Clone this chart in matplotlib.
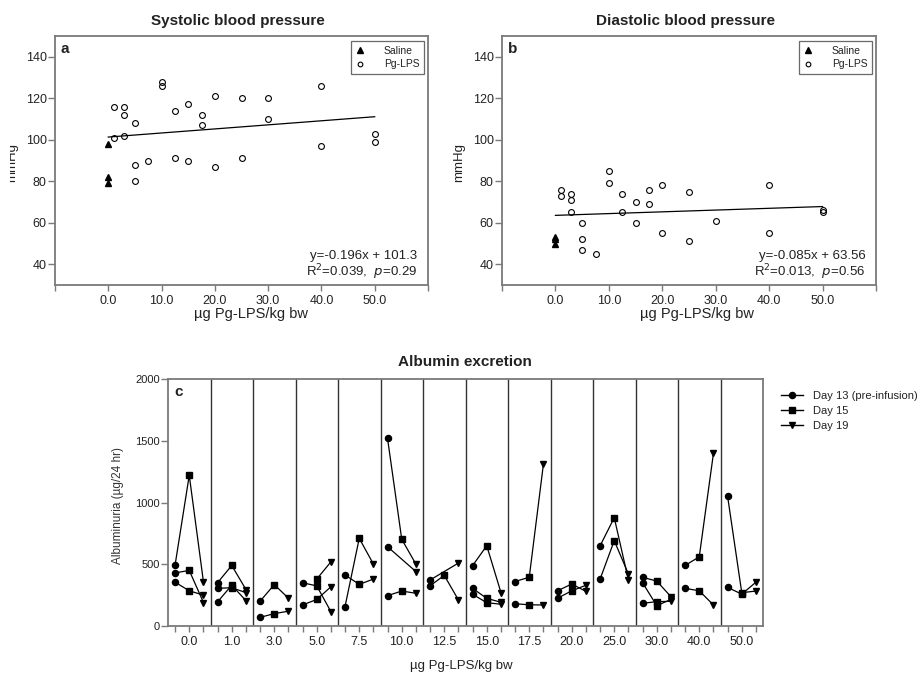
#!/usr/bin/env python3

import numpy as np
import matplotlib
matplotlib.use("Agg")
import matplotlib.pyplot as plt
from matplotlib.lines import Line2D
from matplotlib.transforms import Bbox, TransformedBbox

plt.rcParams['font.family'] = ['Liberation Sans', 'DejaVu Sans']

# blood pressure, panels a and b
saline_dose = [0.0, 0.0, 0.0]
sys_saline = [98, 82, 79]
sys_lps_dose = [1, 1, 3, 3, 3, 5, 5, 5, 7.5, 10, 10, 12.5, 12.5, 15, 15,
                17.5, 17.5, 20, 20, 25, 25, 30, 30, 40, 40, 50, 50]
sys_lps = [116, 101, 116, 112, 102, 108, 88, 80, 90, 128, 126, 114, 91, 117, 90,
           112, 107, 121, 87, 120, 91, 120, 110, 126, 97, 103, 99]
dia_saline = [53, 52, 50]
dia_lps_dose = [1, 1, 3, 3, 3, 5, 5, 5, 7.5, 10, 10, 12.5, 12.5, 15, 15,
                17.5, 17.5, 20, 20, 25, 25, 30, 40, 40, 50, 50]
dia_lps = [76, 73, 74, 71, 65, 60, 52, 47, 45, 85, 79, 74, 65, 70, 60,
           76, 69, 78, 55, 75, 51, 61, 78, 55, 66, 65]
sys_fit = (0.196, 101.3)   # slope, intercept of drawn line
dia_fit = (0.085, 63.56)
bp_ticks = [-10, 0, 10, 20, 30, 40, 50, 60]
bp_ticklabels = ['', '0.0', '10.0', '20.0', '30.0', '40.0', '50.0', '']

# albumin excretion, panel c (one entry per rat)
dose_labels = ['0.0', '1.0', '3.0', '5.0', '7.5', '10.0', '12.5', '15.0',
               '17.5', '20.0', '25.0', '30.0', '40.0', '50.0']
rat_group = [0, 0, 0, 1, 1, 1, 2, 2, 3, 3, 3, 4, 4, 5, 5, 5, 6, 6,
             7, 7, 7, 8, 8, 9, 9, 10, 10, 11, 11, 11, 12, 12, 13, 13]
nan = float('nan')
day13 = [490, 430, 355, 350, 305, 195, 200, 70, 350, 170, nan, 157, 413,
         1520, 642, 246, 372, 325, 488, 305, 257, 360, 180, 285, 225,
         648, 378, 394, 351, 184, 490, 305, 1055, 313]
day15 = [1220, 450, 285, 490, 310, 330, 335, 100, 325, 215, 380, 710, 337,
         702, nan, 283, nan, 410, 650, 224, 189, 395, 172, 340, 285,
         877, 691, 364, 165, 197, 560, 285, 270, 258]
day19 = [355, 190, 250, 295, 270, 205, 225, 120, 115, 318, 520, 500, 380,
         500, 440, 265, 510, 210, 270, 192, 176, 1315, 170, 280, 330,
         370, 420, 237, 215, 200, 1400, 170, 283, 355]
day_offset = [0.165, 0.5, 0.835]

W, H = 918, 675
fig = plt.figure(figsize=(W / 100, H / 100), dpi=100)
TXT = '#222222'
SPINE = '#7a7a7a'


def fx(x):
    return x / W


def fy(y):
    return 1 - y / H


def px_axes(l, t, r, b):
    return fig.add_axes([l / W, 1 - b / H, (r - l) / W, (b - t) / H])


def style(ax):
    for s in ax.spines.values():
        s.set_color(SPINE)
        s.set_linewidth(1.3)
    ax.tick_params(colors=SPINE, labelcolor=TXT, width=1.0)


def bp_panel(ax, sal, lx, ly, fit, letter, eq, r2, legend_right):
    ax.plot(saline_dose, sal, '^', color='black', ms=5, ls='none', label='Saline')
    ax.plot(lx, ly, 'o', mfc='none', mec='black', ms=4.2, mew=0.8, ls='none',
            label='Pg-LPS')
    xs = np.array([0.0, 50.0])
    ax.plot(xs, fit[1] + fit[0] * xs, color='black', lw=0.9)
    ax.set_xlim(-10, 60)
    ax.set_ylim(30, 150)
    ax.set_xticks(bp_ticks, bp_ticklabels)
    ax.set_yticks(range(40, 141, 20))
    style(ax)
    ax.tick_params(axis='x', length=4, pad=3, labelsize=9)
    ax.tick_params(axis='y', length=5, pad=1, labelsize=9)
    ax.text(0.015, 0.975, letter, transform=ax.transAxes, fontsize=11,
            fontweight='bold', color=TXT, ha='left', va='top')
    ax.text(0.972, 0.117, eq, transform=ax.transAxes, fontsize=9.5, color=TXT,
            ha='right', va='center')
    ax.text(0.972, 0.05, r2, transform=ax.transAxes, fontsize=9.5, color=TXT,
            ha='right', va='center')
    leg = ax.legend(loc='upper right', bbox_to_anchor=(fx(legend_right), fy(41)),
                    bbox_transform=fig.transFigure, borderaxespad=0,
                    fancybox=False, fontsize=7.5, handlelength=0.8,
                    handletextpad=1.9, borderpad=0.45, labelspacing=0.35,
                    markerscale=0.8, edgecolor='#444444')
    leg.get_frame().set_linewidth(0.9)
    for t in leg.get_texts():
        t.set_color(TXT)


# panel a
ax_a = px_axes(55, 36, 428, 285)
bp_panel(ax_a, sys_saline, sys_lps_dose, sys_lps, sys_fit, 'a',
         'y=-0.196x + 101.3', r'R$^2$=0.039,  $p$=0.29', 424)
fig.text(fx(238), fy(21), 'Systolic blood pressure', fontsize=11, fontweight='bold',
         color=TXT, ha='center', va='center')
fig.text(fx(251), fy(314), 'µg Pg-LPS/kg bw', fontsize=10.5, color=TXT,
         ha='center', va='center')
yl = fig.text(fx(12), fy(162), 'mmHg', fontsize=9.5, color=TXT, rotation=90,
              ha='center', va='center')
yl.set_clip_box(TransformedBbox(Bbox([[10 / W, 0], [1, 1]]), fig.transFigure))
yl.set_clip_on(True)

# panel b
ax_b = px_axes(502, 36, 876, 285)
bp_panel(ax_b, dia_saline, dia_lps_dose, dia_lps, dia_fit, 'b',
         'y=-0.085x + 63.56', r'R$^2$=0.013,  $p$=0.56', 872)
fig.text(fx(686), fy(21), 'Diastolic blood pressure', fontsize=11, fontweight='bold',
         color=TXT, ha='center', va='center')
fig.text(fx(697), fy(314), 'µg Pg-LPS/kg bw', fontsize=10.5, color=TXT,
         ha='center', va='center')
fig.text(fx(459), fy(162), 'mmHg', fontsize=9.5, color=TXT, rotation=90,
         ha='center', va='center')

# panel c
ax_c = px_axes(168, 379, 763, 626)
ng = len(dose_labels)
for i in range(1, ng):
    ax_c.axvline(i, color='#333333', lw=1.0)
days = [day13, day15, day19]
for r, g in enumerate(rat_group):
    xs, ys = [], []
    for j in range(3):
        v = days[j][r]
        if not np.isnan(v):
            xs.append(g + day_offset[j])
            ys.append(v)
    ax_c.plot(xs, ys, color='black', lw=0.9)
marks = [('o', 4.4), ('s', 4.0), ('v', 5.0)]
for j in range(3):
    xs = [g + day_offset[j] for g in rat_group]
    ax_c.plot(xs, days[j], ls='none', marker=marks[j][0], ms=marks[j][1],
              color='black', zorder=3)
ax_c.set_xlim(0, ng)
ax_c.set_ylim(0, 2000)
tick_pos, tick_lab = [], []
for g in range(ng):
    for j in range(3):
        tick_pos.append(g + day_offset[j])
        tick_lab.append(dose_labels[g] if j == 1 else '')
ax_c.set_xticks(tick_pos, tick_lab)
ax_c.set_yticks([0, 500, 1000, 1500, 2000])
style(ax_c)
ax_c.tick_params(axis='x', length=4, pad=3, labelsize=9)
ax_c.tick_params(axis='y', length=5, pad=1, labelsize=8)
ax_c.text(0.01, 0.975, 'c', transform=ax_c.transAxes, fontsize=11,
          fontweight='bold', color=TXT, ha='left', va='top')
fig.text(fx(465), fy(362), 'Albumin excretion', fontsize=11, fontweight='bold',
         color=TXT, ha='center', va='center')
fig.text(fx(461), fy(666), 'µg Pg-LPS/kg bw', fontsize=9.5, color=TXT,
         ha='center', va='center')
fig.text(fx(118), fy(505), 'Albuminuria (µg/24 hr)', fontsize=8.5, color='#333333',
         rotation=90, ha='center', va='center')

handles = [Line2D([], [], color='black', lw=1.0, marker=m, ms=s) for m, s in marks]
leg_c = fig.legend(handles, ['Day 13 (pre-infusion)', 'Day 15', 'Day 19'],
                   loc='upper left', bbox_to_anchor=(fx(781), fy(391)),
                   bbox_transform=fig.transFigure, frameon=False, fontsize=8,
                   borderpad=0, borderaxespad=0, handlelength=2.0,
                   handletextpad=0.9, labelspacing=0.45)
for t in leg_c.get_texts():
    t.set_color(TXT)

plt.savefig("out.png", dpi=100)
